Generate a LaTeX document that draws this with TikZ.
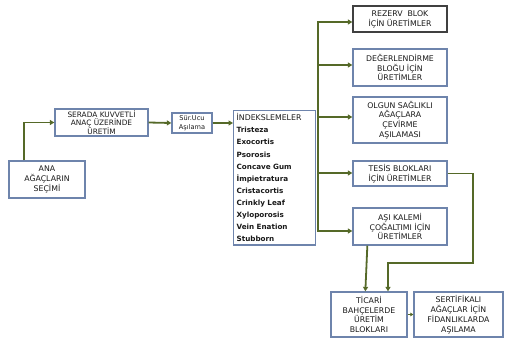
\documentclass[tikz,border=0pt]{standalone}
\usepackage{fontspec}
\setmainfont{DejaVu Sans}
\usetikzlibrary{arrows.meta}
\definecolor{arrgreen}{RGB}{85,105,40}
\definecolor{boxblue}{RGB}{110,132,172}
\tikzset{
  box/.style={draw=boxblue, line width=1.3pt, fill=white, align=center, inner sep=1pt,
    font=\fontsize{7.8}{9.8}\selectfont, text=black!90},
  blackbox/.style={box, draw=black!75},
  arr/.style={draw=arrgreen, line width=1.8pt, -{Triangle[length=4.5pt,width=5pt]}},
  ln/.style={draw=arrgreen, line width=1.8pt}
}
\begin{document}
\begin{tikzpicture}[x=1pt,y=-1pt]
\useasboundingbox (0,0) rectangle (507,341);
\node[box, minimum width=76pt, minimum height=37pt] (ana) at (47,179.5) {ANA\\AĞAÇLARIN\\SEÇİMİ};
\node[box, minimum width=93pt, minimum height=27pt, font=\fontsize{7.4}{8.8}\selectfont] (serada) at (101.5,122.5) {SERADA KUVVETLİ\\ANAÇ ÜZERİNDE\\ÜRETİM};
\node[box, minimum width=40pt, minimum height=20pt, font=\fontsize{6.6}{8.4}\selectfont] (sur) at (192,123) {Sür.Ucu\\Aşılama};
\node[box, minimum width=82pt, minimum height=133pt, text width=76pt, align=left, anchor=north west, inner sep=3pt,
  font=\fontsize{7.2}{12.1}\selectfont\bfseries] (indeks) at (233,110)
  {{\mdseries\fontsize{7.8}{8}\selectfont İNDEKSLEMELER}\\Tristeza\\Exocortis\\Psorosis\\Concave Gum\\İmpietratura\\Cristacortis\\Crinkly Leaf\\Xyloporosis\\Vein Enation\\Stubborn};
\node[blackbox, minimum width=94pt, minimum height=26pt] (rezerv) at (400,19) {REZERV\ \ BLOK\\İÇİN ÜRETİMLER};
\node[box, minimum width=94pt, minimum height=37pt] (deger) at (400,67.5) {DEĞERLENDİRME\\BLOĞU İÇİN\\ÜRETİMLER};
\node[box, minimum width=94pt, minimum height=46pt] (olgun) at (400,120) {OLGUN SAĞLIKLI\\AĞAÇLARA\\ÇEVİRME\\AŞILAMASI};
\node[box, minimum width=94pt, minimum height=25pt] (tesis) at (400,173.5) {TESİS BLOKLARI\\İÇİN ÜRETİMLER};
\node[box, minimum width=94pt, minimum height=37pt] (asi) at (400,226.5) {AŞI KALEMİ\\ÇOĞALTIMI İÇİN\\ÜRETİMLER};
\node[box, minimum width=76pt, minimum height=45pt] (ticari) at (369,314.5) {TİCARİ\\BAHÇELERDE\\ÜRETİM\\BLOKLARI};
\node[box, minimum width=89pt, minimum height=45pt] (sert) at (458.5,314.5) {SERTİFİKALI\\AĞAÇLAR İÇİN\\FİDANLIKLARDA\\AŞILAMA};
% trunk coordinates
\coordinate (t1) at (318,22);
\coordinate (t2) at (318,65);
\coordinate (t3) at (318,117);
\coordinate (t4) at (318,173);
\coordinate (t5) at (318,231);
\coordinate (c2) at (473,263);
\coordinate (c1) at (388,263);
% connectors
\draw[arr] ([xshift=16pt]ana.north west) |- (serada.west);
\draw[arr] (serada.east) -- (sur.west);
\draw[arr] (sur.west -| sur.east) -- (indeks.west |- sur.east);
\draw[ln, line cap=rect] (t1) -- (t5);
\draw[arr] (t1) -- (t1 -| rezerv.west);
\draw[arr] (t2) -- (t2 -| deger.west);
\draw[arr] (t3) -- (t3 -| olgun.west);
\draw[arr] (t4) -- (t4 -| tesis.west);
\draw[arr] (t5) -- (t5 -| asi.west);
\draw[arr] (tesis.east) -| (c2) -- (c1) -- (c1 |- ticari.north);
\draw[arr] ([xshift=15pt]asi.south west) -- ([xshift=35pt]ticari.north west);
\draw[draw=arrgreen, line width=1.4pt, -{Triangle[length=3pt,width=3.5pt]}] (ticari.east) -- (sert.west);
\end{tikzpicture}
\end{document}
